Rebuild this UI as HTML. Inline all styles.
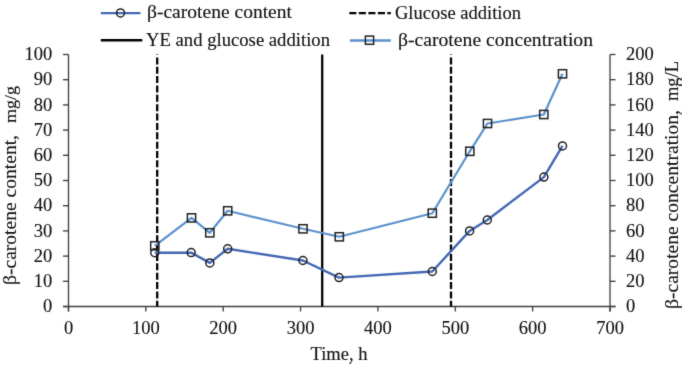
<!DOCTYPE html><html><head><meta charset="utf-8"><style>html,body{margin:0;padding:0;background:#fff;}svg{display:block;}text{font-family:"Liberation Serif",serif;fill:#111;stroke:#111;stroke-width:0.12px;white-space:pre;}</style></head><body>
<svg width="685" height="370" viewBox="0 0 685 370">
<defs><filter id="bl" x="0" y="0" width="100%" height="100%" color-interpolation-filters="sRGB"><feConvolveMatrix order="3" kernelMatrix="0.02 0.07 0.02 0.07 0.64 0.07 0.02 0.07 0.02" edgeMode="duplicate"/></filter></defs>
<rect width="685" height="370" fill="#fff"/>
<g filter="url(#bl)">
<line x1="68.5" y1="54.5" x2="68.5" y2="311.5" stroke="#404040" stroke-width="1.35"/>
<line x1="610" y1="54.5" x2="610" y2="311.5" stroke="#808080" stroke-width="2"/>
<line x1="63.0" y1="306.5" x2="615.5" y2="306.5" stroke="#404040" stroke-width="1.35"/>
<line x1="63.0" y1="306.50" x2="68.5" y2="306.50" stroke="#404040" stroke-width="1.35"/>
<line x1="610" y1="306.50" x2="615.5" y2="306.50" stroke="#404040" stroke-width="1.35"/>
<line x1="63.0" y1="281.30" x2="68.5" y2="281.30" stroke="#404040" stroke-width="1.35"/>
<line x1="610" y1="281.30" x2="615.5" y2="281.30" stroke="#404040" stroke-width="1.35"/>
<line x1="63.0" y1="256.10" x2="68.5" y2="256.10" stroke="#404040" stroke-width="1.35"/>
<line x1="610" y1="256.10" x2="615.5" y2="256.10" stroke="#404040" stroke-width="1.35"/>
<line x1="63.0" y1="230.90" x2="68.5" y2="230.90" stroke="#404040" stroke-width="1.35"/>
<line x1="610" y1="230.90" x2="615.5" y2="230.90" stroke="#404040" stroke-width="1.35"/>
<line x1="63.0" y1="205.70" x2="68.5" y2="205.70" stroke="#404040" stroke-width="1.35"/>
<line x1="610" y1="205.70" x2="615.5" y2="205.70" stroke="#404040" stroke-width="1.35"/>
<line x1="63.0" y1="180.50" x2="68.5" y2="180.50" stroke="#404040" stroke-width="1.35"/>
<line x1="610" y1="180.50" x2="615.5" y2="180.50" stroke="#404040" stroke-width="1.35"/>
<line x1="63.0" y1="155.30" x2="68.5" y2="155.30" stroke="#404040" stroke-width="1.35"/>
<line x1="610" y1="155.30" x2="615.5" y2="155.30" stroke="#404040" stroke-width="1.35"/>
<line x1="63.0" y1="130.10" x2="68.5" y2="130.10" stroke="#404040" stroke-width="1.35"/>
<line x1="610" y1="130.10" x2="615.5" y2="130.10" stroke="#404040" stroke-width="1.35"/>
<line x1="63.0" y1="104.90" x2="68.5" y2="104.90" stroke="#404040" stroke-width="1.35"/>
<line x1="610" y1="104.90" x2="615.5" y2="104.90" stroke="#404040" stroke-width="1.35"/>
<line x1="63.0" y1="79.70" x2="68.5" y2="79.70" stroke="#404040" stroke-width="1.35"/>
<line x1="610" y1="79.70" x2="615.5" y2="79.70" stroke="#404040" stroke-width="1.35"/>
<line x1="63.0" y1="54.50" x2="68.5" y2="54.50" stroke="#404040" stroke-width="1.35"/>
<line x1="610" y1="54.50" x2="615.5" y2="54.50" stroke="#404040" stroke-width="1.35"/>
<line x1="68.50" y1="306.5" x2="68.50" y2="311.5" stroke="#404040" stroke-width="1.35"/>
<line x1="145.86" y1="306.5" x2="145.86" y2="311.5" stroke="#404040" stroke-width="1.35"/>
<line x1="223.21" y1="306.5" x2="223.21" y2="311.5" stroke="#404040" stroke-width="1.35"/>
<line x1="300.57" y1="306.5" x2="300.57" y2="311.5" stroke="#404040" stroke-width="1.35"/>
<line x1="377.93" y1="306.5" x2="377.93" y2="311.5" stroke="#404040" stroke-width="1.35"/>
<line x1="455.29" y1="306.5" x2="455.29" y2="311.5" stroke="#404040" stroke-width="1.35"/>
<line x1="532.64" y1="306.5" x2="532.64" y2="311.5" stroke="#404040" stroke-width="1.35"/>
<line x1="610.00" y1="306.5" x2="610.00" y2="311.5" stroke="#404040" stroke-width="1.35"/>
<text x="52.3" y="312.10" font-size="18.5" text-anchor="end">0</text>
<text x="626" y="312.10" font-size="18.5">0</text>
<text x="52.3" y="286.90" font-size="18.5" text-anchor="end">10</text>
<text x="626" y="286.90" font-size="18.5">20</text>
<text x="52.3" y="261.70" font-size="18.5" text-anchor="end">20</text>
<text x="626" y="261.70" font-size="18.5">40</text>
<text x="52.3" y="236.50" font-size="18.5" text-anchor="end">30</text>
<text x="626" y="236.50" font-size="18.5">60</text>
<text x="52.3" y="211.30" font-size="18.5" text-anchor="end">40</text>
<text x="626" y="211.30" font-size="18.5">80</text>
<text x="52.3" y="186.10" font-size="18.5" text-anchor="end">50</text>
<text x="626" y="186.10" font-size="18.5">100</text>
<text x="52.3" y="160.90" font-size="18.5" text-anchor="end">60</text>
<text x="626" y="160.90" font-size="18.5">120</text>
<text x="52.3" y="135.70" font-size="18.5" text-anchor="end">70</text>
<text x="626" y="135.70" font-size="18.5">140</text>
<text x="52.3" y="110.50" font-size="18.5" text-anchor="end">80</text>
<text x="626" y="110.50" font-size="18.5">160</text>
<text x="52.3" y="85.30" font-size="18.5" text-anchor="end">90</text>
<text x="626" y="85.30" font-size="18.5">180</text>
<text x="52.3" y="60.10" font-size="18.5" text-anchor="end">100</text>
<text x="626" y="60.10" font-size="18.5">200</text>
<text x="68.50" y="334" font-size="18.5" text-anchor="middle">0</text>
<text x="145.86" y="334" font-size="18.5" text-anchor="middle">100</text>
<text x="223.21" y="334" font-size="18.5" text-anchor="middle">200</text>
<text x="300.57" y="334" font-size="18.5" text-anchor="middle">300</text>
<text x="377.93" y="334" font-size="18.5" text-anchor="middle">400</text>
<text x="455.29" y="334" font-size="18.5" text-anchor="middle">500</text>
<text x="532.64" y="334" font-size="18.5" text-anchor="middle">600</text>
<text x="610.00" y="334" font-size="18.5" text-anchor="middle">700</text>
<line x1="157.2" y1="54.5" x2="157.2" y2="306.5" stroke="#000" stroke-width="2.3" stroke-dasharray="7 2.36" stroke-dashoffset="6.46"/>
<line x1="451" y1="54.5" x2="451" y2="306.5" stroke="#000" stroke-width="2.3" stroke-dasharray="7 2.36" stroke-dashoffset="6.46"/>
<line x1="322.2" y1="306.5" x2="322.2" y2="54.5" stroke="#000" stroke-width="2.3"/>
<polyline points="154.8,245.8 191.5,217.9 209.8,232.8 227.7,210.8 303.0,228.8 339.3,236.8 432.3,213.2 469.8,151.3 487.5,123.5 543.8,114.5 562.5,73.8" fill="none" stroke="#5B91CC" stroke-width="2.2" stroke-linejoin="round"/>
<polyline points="154.8,252.7 191.2,252.6 209.8,262.9 227.7,248.8 302.9,260.5 339.0,277.6 432.3,271.5 469.6,230.9 487.3,220.0 543.9,177.1 562.5,145.9" fill="none" stroke="#4468B4" stroke-width="2.4" stroke-linejoin="round"/>
<rect x="150.70" y="241.70" width="8.2" height="8.2" fill="none" stroke="#222" stroke-width="1.5"/>
<rect x="187.40" y="213.80" width="8.2" height="8.2" fill="none" stroke="#222" stroke-width="1.5"/>
<rect x="205.70" y="228.70" width="8.2" height="8.2" fill="none" stroke="#222" stroke-width="1.5"/>
<rect x="223.60" y="206.70" width="8.2" height="8.2" fill="none" stroke="#222" stroke-width="1.5"/>
<rect x="298.90" y="224.70" width="8.2" height="8.2" fill="none" stroke="#222" stroke-width="1.5"/>
<rect x="335.20" y="232.70" width="8.2" height="8.2" fill="none" stroke="#222" stroke-width="1.5"/>
<rect x="428.20" y="209.10" width="8.2" height="8.2" fill="none" stroke="#222" stroke-width="1.5"/>
<rect x="465.70" y="147.20" width="8.2" height="8.2" fill="none" stroke="#222" stroke-width="1.5"/>
<rect x="483.40" y="119.40" width="8.2" height="8.2" fill="none" stroke="#222" stroke-width="1.5"/>
<rect x="539.70" y="110.40" width="8.2" height="8.2" fill="none" stroke="#222" stroke-width="1.5"/>
<rect x="558.40" y="69.70" width="8.2" height="8.2" fill="none" stroke="#222" stroke-width="1.5"/>
<circle cx="154.8" cy="252.7" r="4.0" fill="none" stroke="#222" stroke-width="1.5"/>
<circle cx="191.2" cy="252.6" r="4.0" fill="none" stroke="#222" stroke-width="1.5"/>
<circle cx="209.8" cy="262.9" r="4.0" fill="none" stroke="#222" stroke-width="1.5"/>
<circle cx="227.7" cy="248.8" r="4.0" fill="none" stroke="#222" stroke-width="1.5"/>
<circle cx="302.9" cy="260.5" r="4.0" fill="none" stroke="#222" stroke-width="1.5"/>
<circle cx="339.0" cy="277.6" r="4.0" fill="none" stroke="#222" stroke-width="1.5"/>
<circle cx="432.3" cy="271.5" r="4.0" fill="none" stroke="#222" stroke-width="1.5"/>
<circle cx="469.6" cy="230.9" r="4.0" fill="none" stroke="#222" stroke-width="1.5"/>
<circle cx="487.3" cy="220.0" r="4.0" fill="none" stroke="#222" stroke-width="1.5"/>
<circle cx="543.9" cy="177.1" r="4.0" fill="none" stroke="#222" stroke-width="1.5"/>
<circle cx="562.5" cy="145.9" r="4.0" fill="none" stroke="#222" stroke-width="1.5"/>
<line x1="100.8" y1="13.1" x2="140.5" y2="13.1" stroke="#4468B4" stroke-width="2.4"/>
<circle cx="120.5" cy="12.95" r="4.0" fill="none" stroke="#222" stroke-width="1.5"/>
<line x1="349.3" y1="13.2" x2="390.8" y2="13.2" stroke="#000" stroke-width="2.3" stroke-dasharray="7.1 2.42"/>
<line x1="100.8" y1="40.2" x2="142.3" y2="40.2" stroke="#000" stroke-width="2.5"/>
<line x1="349.9" y1="40.5" x2="390.8" y2="40.5" stroke="#5B91CC" stroke-width="2.3"/>
<rect x="365.4" y="36.1" width="8.2" height="8.2" fill="none" stroke="#222" stroke-width="1.5"/>
<text id="L1" x="147.00" y="17.5" font-size="18.2" textLength="145.00" lengthAdjust="spacingAndGlyphs">β-carotene content</text>
<text id="L2" x="146.00" y="46.1" font-size="18.5" textLength="184.00" lengthAdjust="spacingAndGlyphs">YE and glucose addition</text>
<text id="L3" x="395.00" y="18.5" font-size="18.5" textLength="126.00" lengthAdjust="spacingAndGlyphs">Glucose addition</text>
<text id="L4" x="398.00" y="46.1" font-size="18.2" textLength="195.00" lengthAdjust="spacingAndGlyphs">β-carotene concentration</text>
<text id="TM" x="310.50" y="359.9" font-size="18.2" textLength="57.10" lengthAdjust="spacingAndGlyphs">Time, h</text>
<text id="LA" transform="translate(16.3,285.00) rotate(-90)" font-size="18.3" textLength="150.00" lengthAdjust="spacingAndGlyphs">β-carotene content,</text>
<text id="LB" transform="translate(16.3,123.00) rotate(-90)" font-size="17.5" textLength="37.00" lengthAdjust="spacingAndGlyphs">mg/g</text>
<text id="RA" transform="translate(677.5,309.00) rotate(-90)" font-size="18.3" textLength="199.00" lengthAdjust="spacingAndGlyphs">β-carotene concentration,</text>
<text id="RB" transform="translate(677.5,101.00) rotate(-90)" font-size="18.0" textLength="40.00" lengthAdjust="spacingAndGlyphs">mg/L</text>
</g></svg></body></html>
